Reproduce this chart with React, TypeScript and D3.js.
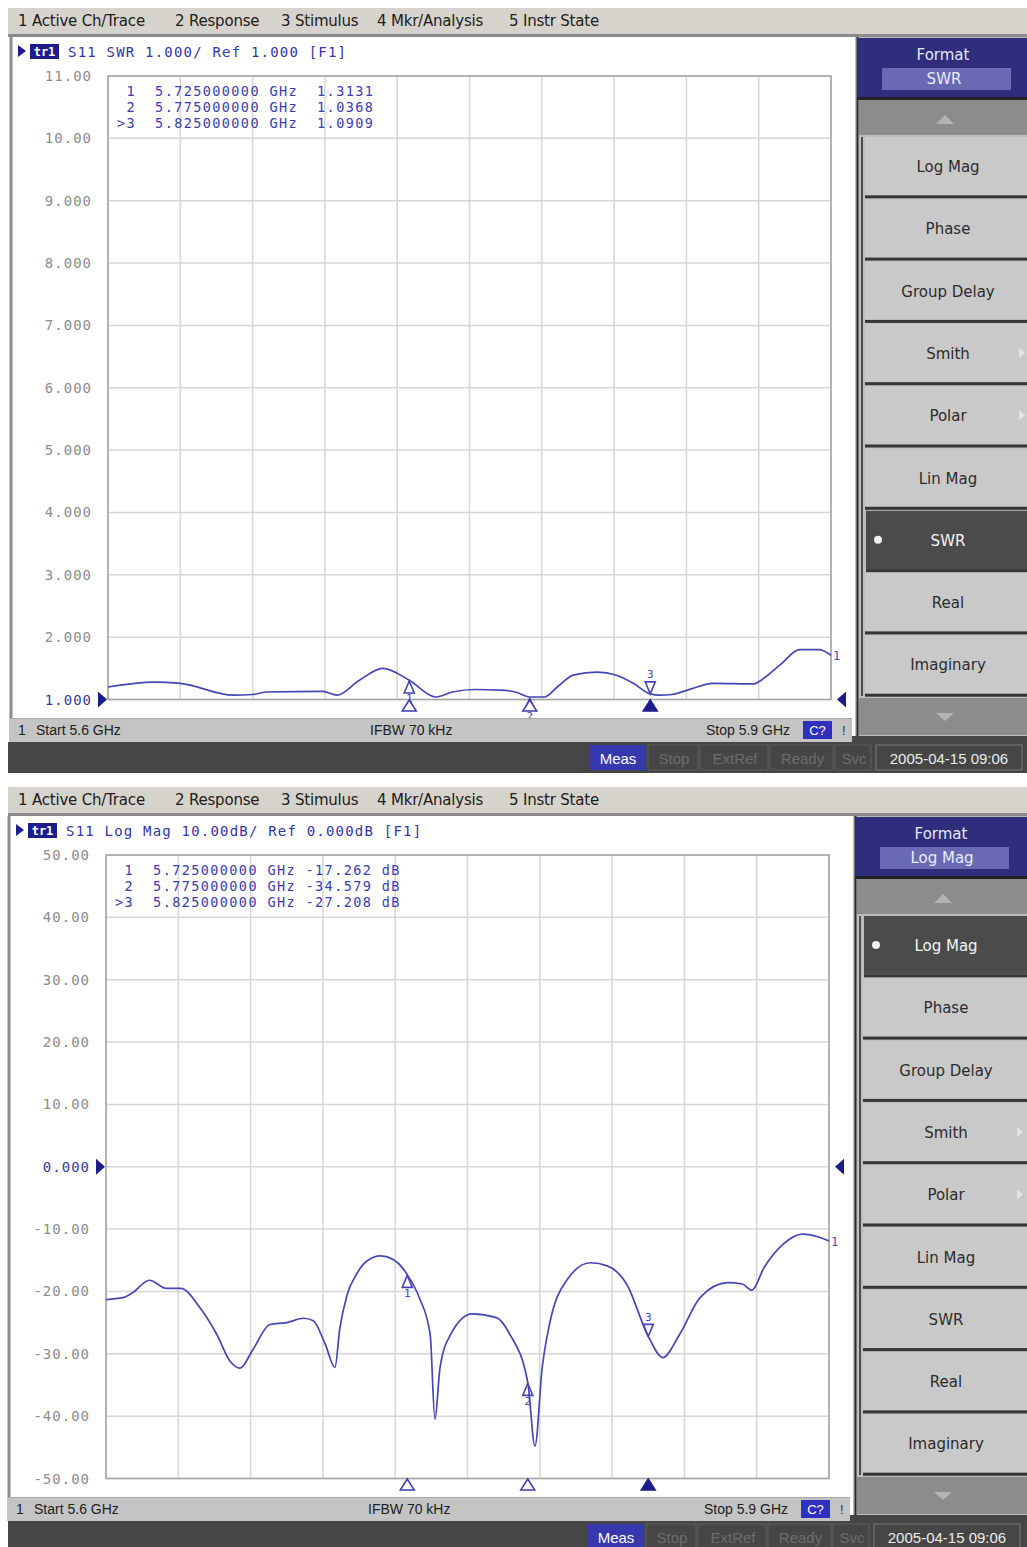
import React from "react"
import * as d3 from "d3"

// ---- data ----
const startFreq = 5.6
const stopFreq = 5.9
const ifbw = "70 kHz"
const stamp = "2005-04-15 09:06"

const menuItems = ["1 Active Ch/Trace", "2 Response", "3 Stimulus", "4 Mkr/Analysis", "5 Instr State"]
const formatKeys = ["Log Mag", "Phase", "Group Delay", "Smith", "Polar", "Lin Mag", "SWR", "Real", "Imaginary"]
const subMenuKeys = ["Smith", "Polar"]
const statusFlags = ["Stop", "ExtRef", "Ready", "Svc"]

const markerFreqs = [5.725, 5.775, 5.825]
const swrMarkerValues = [1.3131, 1.0368, 1.0909]
const logMagMarkerValues = [-17.262, -34.579, -27.208]

const swrTicks = [11, 10, 9, 8, 7, 6, 5, 4, 3, 2, 1]
const logMagTicks = [50, 40, 30, 20, 10, 0, -10, -20, -30, -40, -50]

// S11 SWR trace
const swrFreqs = [
    5.600, 5.619, 5.630, 5.652, 5.660, 5.666, 5.689, 5.695, 5.704, 5.714,
    5.725, 5.736, 5.743, 5.752, 5.763, 5.769, 5.775, 5.781, 5.787, 5.793,
    5.803, 5.811, 5.818, 5.825, 5.829, 5.834, 5.842, 5.851, 5.868, 5.871,
    5.879, 5.887, 5.895, 5.900
]
const swrValues = [
    1.20, 1.28, 1.26, 1.07, 1.08, 1.12, 1.13, 1.07, 1.30, 1.50,
    1.31, 1.04, 1.12, 1.16, 1.15, 1.12, 1.04, 1.04, 1.22, 1.39,
    1.44, 1.39, 1.26, 1.09, 1.07, 1.08, 1.17, 1.26, 1.25, 1.31,
    1.56, 1.80, 1.80, 1.71
]

// S11 Log Mag trace (dB)
const logMagFreqs = [
    5.600, 5.607, 5.611, 5.618, 5.625, 5.631, 5.639, 5.646, 5.6515, 5.6556,
    5.661, 5.668, 5.675, 5.682, 5.686, 5.691, 5.695, 5.697, 5.700, 5.704,
    5.708, 5.714, 5.721, 5.725, 5.730, 5.7345, 5.7365, 5.7386, 5.743, 5.752,
    5.762, 5.7676, 5.775, 5.778, 5.781, 5.784, 5.791, 5.801, 5.808, 5.816,
    5.825, 5.831, 5.838, 5.8465, 5.858, 5.864, 5.868, 5.873, 5.881, 5.889,
    5.896, 5.900
]
const logMagValues = [
    -21.3, -21.0, -20.2, -18.2, -19.5, -19.5, -22.6, -26.9, -31.2, -32.3,
    -29.3, -25.3, -25.0, -24.3, -24.7, -28.5, -32.2, -26.0, -20.6, -17.2,
    -15.2, -14.3, -15.4, -17.3, -21.0, -26.9, -40.5, -32.2, -26.9, -23.6,
    -24.2, -26.9, -34.6, -44.8, -32.2, -25.3, -18.3, -15.4, -15.9, -18.8,
    -27.2, -30.6, -26.9, -21.0, -18.6, -18.8, -19.8, -16.2, -12.4, -10.8,
    -11.3, -11.9
]

const W = 1027
const H = 1547

const TRACE = "#4646b4"
const NAVY = "#1c1c8a"
const MONO = "'DejaVu Sans Mono', monospace"
const SANS = "'DejaVu Sans', sans-serif"
const NARROW = "'Liberation Sans', Arial, sans-serif"

const fmtTick = v => (Math.abs(v) >= 10 ? v.toFixed(2) : v.toFixed(3))

function Screen({ oy, dx, format, title, ticks, refValue, freqs, values, markerValues, unit }) {
    const x = d3.scaleLinear().domain([startFreq, stopFreq]).range([108 + dx, 831 + dx])
    const y = d3.scaleLinear().domain([d3.min(ticks), d3.max(ticks)]).range([699.5, 76])
    const line = d3.line().x(d => x(d[0])).y(d => y(d[1])).curve(d3.curveMonotoneX)
    const pts = freqs.map((f, i) => [f, values[i]])
    const vTicks = d3.range(11).map(i => startFreq + (i * (stopFreq - startFreq)) / 10)
    const last = pts[pts.length - 1]
    const refY = y(refValue)
    const keyH = 62.3
    const menuX = [18, 175, 281, 377, 509]

    return (
        <g transform={`translate(0,${oy})`}>
            {/* menu bar */}
            <rect x={8} y={8} width={W - 8} height={27} fill="#d6d3cc" />
            <rect x={8} y={34} width={W - 8} height={3} fill="#8a8a8a" />
            {menuItems.map((m, i) => (
                <text key={m} x={menuX[i]} y={21} fontFamily={SANS} fontSize={15}
                    dominantBaseline="central" fill="#202020" letterSpacing={-0.2}>{m}</text>
            ))}

            {/* channel window */}
            <rect x={10 + dx} y={37} width={845} height={682} fill="#ffffff" />
            <line x1={11 + dx} x2={11 + dx} y1={37} y2={742} stroke="#8c8c8c" strokeWidth={3} />

            {/* title */}
            <path d={`M${18 + dx},45 L${26 + dx},51 L${18 + dx},57 Z`} fill={NAVY} />
            <rect x={30 + dx} y={44} width={29} height={15} fill={NAVY} />
            <text x={44.5 + dx} y={51.5} fontFamily={MONO} fontSize={12} fill="#ffffff" textAnchor="middle"
                dominantBaseline="central" fontWeight="bold">tr1</text>
            <text x={68 + dx} y={51.5} fontFamily={MONO} fontSize={14} letterSpacing={1.2} fill="#3434a4"
                dominantBaseline="central">{title}</text>

            {/* grid */}
            {ticks.map(t => (
                <line key={"h" + t} x1={x.range()[0]} x2={x.range()[1]} y1={y(t)} y2={y(t)} stroke="#d6d6d6" strokeWidth={1.5} />
            ))}
            {vTicks.map(f => (
                <line key={"v" + f} x1={x(f)} x2={x(f)} y1={y.range()[1]} y2={y.range()[0]} stroke="#d6d6d6" strokeWidth={1.5} />
            ))}
            <rect x={x.range()[0]} y={y.range()[1]} width={x.range()[1] - x.range()[0]} height={y.range()[0] - y.range()[1]}
                fill="none" stroke="#a4a4a4" strokeWidth={1.5} />
            {ticks.map(t => (
                <text key={"l" + t} x={92 + dx} y={y(t)} textAnchor="end" dominantBaseline="central" fontFamily={MONO}
                    fontSize={14} letterSpacing={1} fill={t === refValue ? "#3a3a9a" : "#8c8c8c"}>{fmtTick(t)}</text>
            ))}

            {/* reference level arrows */}
            <path d={`M${98 + dx},${refY - 8} L${107 + dx},${refY} L${98 + dx},${refY + 8} Z`} fill={NAVY} />
            <path d={`M${846 + dx},${refY - 8} L${837 + dx},${refY} L${846 + dx},${refY + 8} Z`} fill={NAVY} />

            {/* marker readout */}
            {markerFreqs.map((f, i) => (
                <text key={"r" + i} x={117 + dx} y={91 + i * 16} fontFamily={MONO} fontSize={13.5} letterSpacing={1.4}
                    fill="#3c3cae" dominantBaseline="central" xmlSpace="preserve">
                    {`${i === 2 ? ">" : " "}${i + 1}  ${f.toFixed(9)} GHz ${unit ? "" : " "}${markerValues[i].toFixed(markerValues[i] > 0 && !unit ? 4 : 3).padStart(unit ? 7 : 6)}${unit ? " " + unit : ""}`}
                </text>
            ))}

            {/* trace */}
            <path d={line(pts)} fill="none" stroke={TRACE} strokeWidth={1.7} />
            <text x={x(last[0]) + 2} y={y(last[1]) + 1} fontFamily={MONO} fontSize={12} fill={TRACE}
                dominantBaseline="central">1</text>

            {/* markers on trace */}
            {markerFreqs.map((f, i) => {
                const mx = x(f)
                const my = y(markerValues[i])
                const active = i === 2
                return active ? (
                    <g key={"m" + i}>
                        <path d={`M${mx},${my} L${mx - 5},${my - 12} L${mx + 5},${my - 12} Z`} fill="none" stroke={TRACE} strokeWidth={1.6} />
                        <text x={mx} y={my - 19} fontFamily={MONO} fontSize={11} fill={TRACE} textAnchor="middle"
                            dominantBaseline="central">{i + 1}</text>
                    </g>
                ) : (
                    <g key={"m" + i}>
                        <path d={`M${mx},${my + 1} L${mx - 5},${my + 13} L${mx + 5},${my + 13} Z`} fill="none" stroke={TRACE} strokeWidth={1.6} />
                        <text x={mx} y={my + 19} fontFamily={MONO} fontSize={11} fill={TRACE} textAnchor="middle"
                            dominantBaseline="central">{i + 1}</text>
                    </g>
                )
            })}
            {/* stimulus markers below the grid */}
            {markerFreqs.map((f, i) => (
                <path key={"s" + i} d={`M${x(f)},${700} L${x(f) - 7},${711} L${x(f) + 7},${711} Z`}
                    fill={i === 2 ? NAVY : "#ffffff"} stroke={i === 2 ? NAVY : "#3c3cae"} strokeWidth={1.5} />
            ))}

            {/* channel status bar */}
            <rect x={10 + dx} y={718} width={842} height={24} fill="#c4c4c4" />
            <line x1={10 + dx} x2={852 + dx} y1={718.5} y2={718.5} stroke="#a8a8a8" />
            <text x={18 + dx} y={730} fontFamily={NARROW} fontSize={14} fill="#202020" dominantBaseline="central">1</text>
            <text x={36 + dx} y={730} fontFamily={NARROW} fontSize={14} fill="#202020" dominantBaseline="central">{`Start ${startFreq} GHz`}</text>
            <text x={370 + dx} y={730} fontFamily={NARROW} fontSize={14} fill="#202020" dominantBaseline="central">{`IFBW ${ifbw}`}</text>
            <text x={790 + dx} y={730} fontFamily={NARROW} fontSize={14} fill="#202020" textAnchor="end" dominantBaseline="central">{`Stop ${stopFreq} GHz`}</text>
            <rect x={803 + dx} y={721} width={29} height={18} fill="#3030c0" />
            <text x={817.5 + dx} y={730} fontFamily={NARROW} fontSize={13} fill="#ffffff" textAnchor="middle" dominantBaseline="central">C?</text>
            <text x={842 + dx} y={730} fontFamily={NARROW} fontSize={13} fill="#303030" dominantBaseline="central">!</text>

            {/* softkey panel */}
            <rect x={855 + dx} y={37} width={W - 855 - dx} height={700} fill="#bdbdbd" />
            <line x1={857.5 + dx} x2={857.5 + dx} y1={37} y2={737} stroke="#2a2a2a" strokeWidth={2} />
            <line x1={862 + dx} x2={862 + dx} y1={137} y2={696} stroke="#2a2a2a" strokeWidth={1.5} />
            <rect x={857 + dx} y={38} width={W - 857 - dx} height={59} fill="#2e2e7c" />
            <text x={943 + dx} y={55} fontFamily={SANS} fontSize={15} fill="#e6e6f4" textAnchor="middle"
                dominantBaseline="central">Format</text>
            <rect x={882 + dx} y={68} width={129} height={22} fill="#6a6ab4" />
            <text x={944 + dx} y={79} fontFamily={SANS} fontSize={15} fill="#ececff" textAnchor="middle"
                dominantBaseline="central">{format}</text>
            <rect x={857 + dx} y={97} width={W - 857 - dx} height={3} fill="#222222" />
            <rect x={859 + dx} y={100} width={W - 859 - dx} height={35} fill="#8c8c8c" />
            <path d={`M${936 + dx},${124} L${945 + dx},${115} L${954 + dx},${124} Z`} fill="#b4b4b4" />
            {formatKeys.map((k, i) => {
                const top = 137 + i * keyH
                const sel = k === format
                return (
                    <g key={k}>
                        <rect x={(sel ? 866 : 865) + dx} y={top} width={W - 865 - dx} height={keyH - 4}
                            fill={sel ? "#4b4b4b" : "#c9c9c9"} />
                        <rect x={(sel ? 866 : 865) + dx} y={top + keyH - 4} width={W - 865 - dx} height={3} fill="#353535" />
                        {sel && <circle cx={878 + dx} cy={top + 29} r={4} fill="#f0f0f0" />}
                        <text x={948 + dx} y={top + 30} fontFamily={SANS} fontSize={15} fill={sel ? "#f4f4f4" : "#2c2c2c"}
                            textAnchor="middle" dominantBaseline="central">{k}</text>
                        {subMenuKeys.includes(k) && (
                            <path d={`M${1019 + dx},${top + 24} L${1025 + dx},${top + 29} L${1019 + dx},${top + 34} Z`} fill="#e4e4e4" />
                        )}
                    </g>
                )
            })}
            <rect x={859 + dx} y={698} width={W - 859 - dx} height={37} fill="#8c8c8c" />
            <path d={`M${936 + dx},${713} L${945 + dx},${721} L${954 + dx},${713} Z`} fill="#b4b4b4" />

            {/* instrument status bar */}
            <rect x={8} y={742} width={W - 8} height={31} fill="#464646" />
            <rect x={852 + dx} y={736} width={W - 852 - dx} height={7} fill="#464646" />
            <rect x={590 + dx} y={745} width={56} height={25} fill="#3838ae" />
            <text x={618 + dx} y={758} fontFamily={NARROW} fontSize={15} fill="#ffffff" textAnchor="middle" dominantBaseline="central">Meas</text>
            {statusFlags.map((s, i) => {
                const edges = [648, 700, 770, 835, 873]
                return (
                    <g key={s}>
                        <rect x={edges[i] + dx} y={745} width={edges[i + 1] - edges[i] - 2} height={25} fill="none" stroke="#5c5c5c" />
                        <text x={(edges[i] + edges[i + 1]) / 2 + dx} y={758} fontFamily={NARROW} fontSize={15} fill="#6c6c6c"
                            textAnchor="middle" dominantBaseline="central">{s}</text>
                    </g>
                )
            })}
            <rect x={876 + dx} y={745} width={146} height={25} fill="none" stroke="#7a7a7a" />
            <text x={949 + dx} y={758} fontFamily={NARROW} fontSize={15} fill="#ececec" textAnchor="middle"
                dominantBaseline="central">{stamp}</text>
        </g>
    )
}

export default function App() {
    return (
        <div style={{ position: "absolute", left: 0, top: 0 }}>
            <svg width={W} height={H} style={{ display: "block", background: "#ffffff" }}>
                <Screen oy={0} dx={0} format="SWR" title="S11 SWR 1.000/ Ref 1.000 [F1]" ticks={swrTicks} refValue={1}
                    freqs={swrFreqs} values={swrValues} markerValues={swrMarkerValues} unit="" />
                <Screen oy={779} dx={-2} format="Log Mag" title="S11 Log Mag 10.00dB/ Ref 0.000dB [F1]" ticks={logMagTicks}
                    refValue={0} freqs={logMagFreqs} values={logMagValues} markerValues={logMagMarkerValues} unit="dB" />
            </svg>
        </div>
    )
}
